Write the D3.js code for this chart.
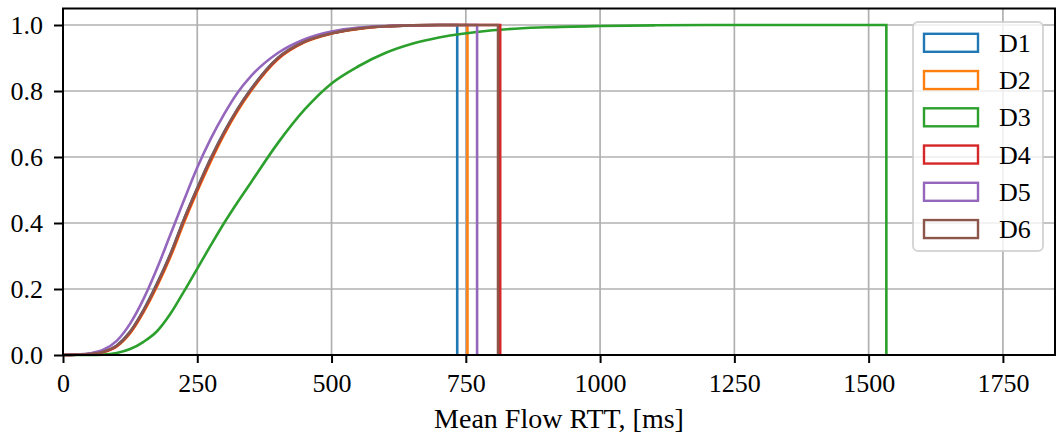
<!DOCTYPE html>
<html>
<head>
<meta charset="utf-8">
<script src="https://d3js.org/d3.v7.min.js"></script>
<style>
  body { margin: 0; background: white; }
  svg { display: block; font-family: "Liberation Serif", "DejaVu Serif", serif; }
</style>
</head>
<body>
<svg id="chart" width="1056" height="439"></svg>
<script>
var rttMs = [0, 25, 50, 75, 100, 125, 150, 175, 200, 225, 250, 275, 300, 325, 350, 400, 450, 500, 550, 600, 650, 700, 800, 900, 1000, 1100, 1200];

var cdfD1 = [0, 0.001, 0.003, 0.010, 0.029, 0.071, 0.137, 0.217, 0.307, 0.411, 0.506, 0.596, 0.676, 0.746, 0.806, 0.900, 0.950, 0.975, 0.989, 0.996, 0.999, 1.0];
var cdfD2 = [0, 0.001, 0.003, 0.009, 0.026, 0.066, 0.130, 0.208, 0.297, 0.400, 0.496, 0.586, 0.668, 0.739, 0.800, 0.896, 0.948, 0.974, 0.988, 0.996, 0.999, 1.0];
var cdfD3 = [0, 0, 0, 0.001, 0.006, 0.018, 0.040, 0.072, 0.125, 0.192, 0.262, 0.332, 0.400, 0.463, 0.523, 0.642, 0.744, 0.823, 0.875, 0.915, 0.943, 0.962, 0.984, 0.993, 0.997, 0.999, 1.0];
var cdfD4 = [0, 0.001, 0.003, 0.009, 0.027, 0.068, 0.133, 0.212, 0.302, 0.406, 0.501, 0.591, 0.672, 0.743, 0.803, 0.898, 0.949, 0.975, 0.989, 0.996, 0.999, 1.0];
var cdfD5 = [0, 0.001, 0.005, 0.016, 0.043, 0.095, 0.170, 0.262, 0.365, 0.468, 0.568, 0.655, 0.730, 0.795, 0.845, 0.915, 0.957, 0.980, 0.992, 0.997, 0.999, 1.0];
var cdfD6 = [0, 0.001, 0.003, 0.010, 0.028, 0.070, 0.135, 0.215, 0.305, 0.410, 0.505, 0.595, 0.675, 0.745, 0.805, 0.900, 0.950, 0.975, 0.989, 0.996, 0.999, 1.0];

// largest RTT of each set (where the step outline drops back to 0)
var maxRtt = [734, 753, 1533, 814, 771, 810];

var labels = ["D1", "D2", "D3", "D4", "D5", "D6"];
var colors = ["#1f77b4", "#ff7f0e", "#2ca02c", "#d62728", "#9467bd", "#8c564b"];
var cdfs = [cdfD1, cdfD2, cdfD3, cdfD4, cdfD5, cdfD6];

var xTicks = [0, 250, 500, 750, 1000, 1250, 1500, 1750];
var yTicks = [0, 0.2, 0.4, 0.6, 0.8, 1.0];

var padL = 63, padR = 1055, padT = 8.5, padB = 355;

var svg = d3.select("#chart");
var x = d3.scaleLinear().domain([0, 1847]).range([padL, padR]);
var y = d3.scaleLinear().domain([0, 1.05]).range([padB, padT]);

// grid
var grid = svg.append("g").attr("stroke", "#b0b0b0").attr("stroke-width", 1.7);
grid.selectAll(".gx").data(xTicks).enter().append("line")
  .attr("x1", function(d) { return x(d); }).attr("x2", function(d) { return x(d); })
  .attr("y1", padT).attr("y2", padB);
grid.selectAll(".gy").data(yTicks).enter().append("line")
  .attr("y1", function(d) { return y(d); }).attr("y2", function(d) { return y(d); })
  .attr("x1", padL).attr("x2", padR);

// curves
var line = d3.line()
  .x(function(d) { return x(d[0]); })
  .y(function(d) { return y(d[1]); })
  .curve(d3.curveMonotoneX);

var plot = svg.append("g");
cdfs.forEach(function(cdf, i) {
  var pts = [];
  cdf.forEach(function(v, j) { if (rttMs[j] < maxRtt[i]) pts.push([rttMs[j], v]); });
  pts.push([maxRtt[i], 1]);
  var d = line(pts) + "L" + x(maxRtt[i]) + "," + y(0);
  plot.append("path")
    .attr("d", d)
    .attr("fill", "none")
    .attr("stroke", colors[i])
    .attr("stroke-width", 2.6)
    .attr("stroke-linejoin", "miter");
});

// axes
var xAxis = svg.append("g")
  .attr("transform", "translate(0," + padB + ")")
  .call(d3.axisBottom(x).tickValues(xTicks).tickFormat(d3.format("d")).tickSize(8).tickPadding(11));
var yAxis = svg.append("g")
  .attr("transform", "translate(" + padL + ",0)")
  .call(d3.axisLeft(y).tickValues(yTicks).tickFormat(d3.format(".1f")).tickSize(9).tickPadding(11));
[xAxis, yAxis].forEach(function(a) {
  a.select(".domain").remove();
  a.selectAll("line").attr("stroke", "black").attr("stroke-width", 2);
  a.selectAll("text").attr("fill", "black").style("font-size", "26px")
    .style("font-family", "'Liberation Serif', serif");
});

// spines
svg.append("rect")
  .attr("x", padL).attr("y", padT)
  .attr("width", padR - padL).attr("height", padB - padT)
  .attr("fill", "none").attr("stroke", "black").attr("stroke-width", 2);

svg.append("text")
  .attr("x", (padL + padR) / 2).attr("y", 428)
  .attr("text-anchor", "middle")
  .style("font-size", "28px")
  .text("Mean Flow RTT, [ms]");

// legend
var legend = svg.append("g");
legend.append("rect")
  .attr("x", 913).attr("y", 22).attr("width", 130).attr("height", 229)
  .attr("rx", 5).attr("ry", 5)
  .attr("fill", "white").attr("fill-opacity", 0.8)
  .attr("stroke", "#cccccc").attr("stroke-opacity", 0.8).attr("stroke-width", 2);
labels.forEach(function(lab, i) {
  var cy = 42.8 + i * 37.25;
  legend.append("rect")
    .attr("x", 924).attr("y", cy - 9).attr("width", 54).attr("height", 18)
    .attr("fill", "none").attr("stroke", colors[i]).attr("stroke-width", 2.4);
  legend.append("text")
    .attr("x", 999).attr("y", cy + 9)
    .style("font-size", "26px")
    .text(lab);
});
</script>
</body>
</html>
